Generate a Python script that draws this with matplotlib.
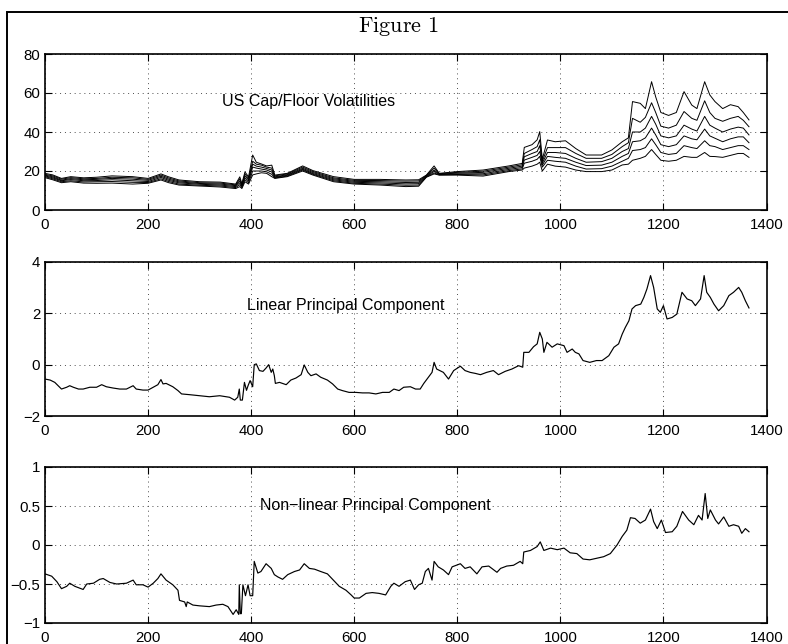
import matplotlib

matplotlib.use("Agg")
import matplotlib.pyplot as plt
from matplotlib.patches import Rectangle

vol_x = [0, 15, 32, 50, 75, 100, 130, 170, 200, 225, 240, 260, 300, 340, 370, 378, 382, 388, 395,
         403, 410, 420, 430, 440, 446, 470, 500, 520, 560, 600, 650, 700, 725, 740, 755, 765, 800,
         850, 900, 926, 930, 945, 955, 960, 965, 975, 990, 1010, 1030, 1050, 1080, 1100, 1120,
         1132, 1140, 1155, 1165, 1177, 1185, 1195, 1210, 1225, 1240, 1255, 1265, 1280, 1290,
         1300, 1315, 1330, 1345, 1355, 1366]
vol_1 = [18.8, 18.0, 16.2, 17.1, 16.5, 16.8, 17.5, 17.1, 16.2, 18.5, 17.0, 15.4, 14.5, 14.3, 13.3,
         17.0, 13.5, 19.5, 17.0, 28.2, 24.5, 23.6, 22.6, 23.0, 17.9, 18.8, 22.6, 20.2, 17.1, 15.7,
         15.7, 15.4, 15.5, 17.9, 22.6, 18.8, 19.7, 20.5, 22.6, 23.9, 32.1, 33.5, 36.0, 40.2, 26.0,
         35.9, 35.0, 35.5, 31.5, 28.2, 28.2, 30.8, 35.0, 37.0, 55.6, 54.7, 52.0, 65.8, 58.0, 50.0,
         48.5, 50.0, 60.7, 53.8, 52.0, 65.8, 59.0, 55.6, 52.0, 54.0, 53.0, 50.0, 46.2]
vol_2 = [18.3, 17.5, 15.8, 16.6, 16.0, 16.2, 16.8, 16.5, 15.7, 17.9, 16.4, 14.9, 14.0, 13.8, 12.9,
         16.0, 13.0, 18.5, 16.2, 25.0, 23.5, 23.0, 22.0, 21.5, 17.5, 18.5, 22.0, 19.7, 16.5, 15.2,
         15.1, 14.8, 14.9, 17.7, 21.5, 18.6, 19.3, 19.9, 22.0, 23.2, 29.0, 31.0, 32.5, 36.0, 25.0,
         32.0, 32.0, 32.0, 29.0, 26.5, 26.5, 28.5, 32.5, 34.5, 47.0, 45.0, 47.5, 55.0, 50.0, 43.0,
         42.0, 43.5, 50.5, 47.0, 46.0, 56.0, 50.0, 47.0, 45.5, 47.0, 48.0, 46.0, 42.7]
vol_3 = [17.9, 17.0, 15.3, 16.1, 15.5, 15.7, 16.2, 15.8, 15.2, 17.3, 15.8, 14.4, 13.6, 13.3, 12.5,
         15.0, 12.5, 17.5, 15.5, 23.5, 22.5, 22.0, 21.3, 20.5, 17.0, 18.1, 21.4, 19.2, 16.0, 14.7,
         14.5, 14.1, 14.2, 17.5, 20.5, 18.4, 18.9, 19.3, 21.4, 22.5, 27.3, 29.0, 30.0, 33.0, 24.0,
         29.5, 29.5, 29.0, 26.5, 24.5, 24.8, 26.5, 30.0, 31.5, 40.0, 40.0, 42.0, 48.0, 44.0, 38.0,
         37.0, 38.0, 43.5, 41.5, 40.5, 48.0, 43.5, 42.0, 40.0, 41.5, 42.5, 42.0, 38.5]
vol_4 = [17.5, 16.5, 15.0, 15.6, 15.0, 15.1, 15.5, 15.0, 14.6, 16.7, 15.2, 13.9, 13.2, 12.8, 12.0,
         14.0, 12.0, 16.5, 14.8, 22.0, 21.5, 21.0, 20.5, 19.5, 16.7, 17.8, 20.9, 18.7, 15.5, 14.2,
         13.9, 13.4, 13.5, 17.2, 19.8, 18.2, 18.5, 18.6, 20.8, 21.8, 25.6, 27.0, 28.0, 30.0, 23.0,
         27.5, 27.0, 26.5, 24.5, 22.8, 23.0, 24.5, 27.5, 29.0, 35.0, 35.5, 37.0, 42.0, 38.5, 33.5,
         32.5, 33.5, 38.0, 36.5, 36.0, 41.5, 38.0, 36.8, 35.0, 36.5, 37.5, 37.5, 34.5]
vol_5 = [17.1, 16.0, 14.5, 15.0, 14.4, 14.5, 14.6, 14.2, 14.1, 16.0, 14.6, 13.3, 12.7, 12.3, 11.5,
         13.0, 11.5, 15.5, 14.0, 20.0, 20.0, 20.0, 19.6, 18.3, 16.4, 17.4, 20.5, 18.3, 15.0, 13.7,
         13.3, 12.7, 12.8, 17.0, 19.0, 18.0, 18.2, 18.0, 20.2, 21.1, 24.0, 25.0, 26.0, 27.5, 22.0,
         25.5, 25.0, 24.5, 22.5, 21.0, 21.2, 22.5, 25.0, 26.5, 30.5, 31.0, 32.0, 36.5, 33.5, 29.5,
         28.5, 29.0, 33.0, 32.0, 31.5, 35.5, 33.0, 32.5, 31.0, 32.0, 33.0, 33.0, 31.0]
vol_6 = [16.6, 15.5, 14.0, 14.5, 13.8, 13.7, 13.8, 13.3, 13.7, 15.4, 14.0, 12.8, 12.3, 11.8, 11.0,
         12.0, 11.0, 14.5, 13.3, 18.0, 18.5, 19.1, 18.8, 17.1, 16.2, 17.1, 20.0, 17.9, 14.5, 13.3,
         12.8, 12.0, 12.2, 16.8, 18.5, 17.9, 17.9, 17.4, 19.7, 20.5, 21.5, 22.5, 23.5, 24.5, 20.0,
         23.5, 22.5, 22.0, 20.5, 19.7, 19.7, 20.5, 23.1, 23.5, 25.5, 26.5, 27.5, 31.0, 28.5, 25.5,
         25.0, 25.5, 27.5, 27.0, 27.0, 29.5, 27.5, 27.4, 27.0, 28.0, 29.0, 29.0, 27.0]

lin_x = [0, 10, 19, 32, 42, 48, 55, 65, 74, 87, 100, 110, 119, 132, 145, 158, 171, 177, 190, 200,
         210, 219, 225, 229, 235, 248, 258, 265, 281, 300, 319, 339, 358, 368, 374, 377, 379, 383,
         387, 391, 394, 398, 403, 406, 410, 416, 423, 429, 434, 439, 442, 445, 447, 455, 468, 477,
         487, 497, 503, 510, 516, 526, 535, 548, 558, 568, 577, 590, 603, 616, 629, 642, 655, 668,
         677, 687, 696, 709, 719, 728, 735, 744, 751, 755, 760, 773, 783, 793, 806, 815, 825, 835,
         845, 857, 870, 880, 893, 906, 919, 927, 929, 939, 948, 955, 960, 965, 968, 974, 984, 994,
         1007, 1013, 1023, 1029, 1036, 1044, 1057, 1070, 1081, 1094, 1104, 1113, 1120, 1126, 1133,
         1139, 1146, 1156, 1162, 1168, 1175, 1181, 1188, 1194, 1200, 1207, 1217, 1226, 1236, 1246,
         1255, 1262, 1272, 1279, 1284, 1291, 1298, 1307, 1317, 1327, 1336, 1346, 1352, 1359, 1366]
lin_y = [-0.56, -0.6, -0.69, -0.95, -0.88, -0.82, -0.88, -0.95, -0.95, -0.88, -0.88, -0.78, -0.86,
         -0.91, -0.95, -0.95, -0.82, -0.95, -0.99, -0.99, -0.88, -0.78, -0.58, -0.75, -0.73, -0.86,
         -1.01, -1.14, -1.17, -1.21, -1.25, -1.21, -1.27, -1.38, -1.27, -0.95, -1.38, -1.38, -0.69,
         -1.0, -0.82, -0.62, -0.86, 0.0, 0.03, -0.23, -0.26, -0.13, 0.0, -0.3, -0.17, -0.43, -0.73,
         -0.69, -0.78, -0.6, -0.52, -0.39, -0.01, -0.3, -0.43, -0.36, -0.49, -0.6, -0.75, -0.95,
         -1.01, -1.08, -1.08, -1.1, -1.1, -1.14, -1.08, -1.08, -0.95, -1.01, -0.88, -0.86, -0.95,
         -0.95, -0.73, -0.49, -0.3, 0.09, -0.17, -0.3, -0.56, -0.23, -0.06, -0.23, -0.3, -0.34,
         -0.39, -0.3, -0.23, -0.39, -0.26, -0.17, -0.04, -0.1, 0.48, 0.48, 0.7, 0.81, 1.26, 1.0,
         0.48, 0.87, 0.68, 0.81, 0.74, 0.48, 0.61, 0.48, 0.42, 0.16, 0.09, 0.16, 0.16, 0.35, 0.68,
         0.81, 1.19, 1.45, 1.71, 2.17, 2.3, 2.36, 2.62, 2.95, 3.47, 3.01, 2.17, 2.04, 2.3, 1.78,
         1.84, 1.97, 2.82, 2.56, 2.49, 2.3, 2.56, 3.47, 2.82, 2.62, 2.36, 2.1, 2.3, 2.69, 2.82,
         3.01, 2.82, 2.49, 2.21]

nl_x = [0, 13, 23, 32, 42, 48, 58, 74, 81, 94, 106, 113, 126, 139, 158, 171, 177, 190, 200, 210,
        219, 225, 235, 248, 258, 261, 271, 274, 276, 287, 300, 319, 332, 345, 355, 365, 371, 376,
        377, 379, 381, 384, 389, 394, 398, 403, 406, 413, 419, 429, 439, 445, 452, 461, 471, 484,
        494, 503, 513, 523, 535, 548, 558, 571, 584, 594, 600, 610, 623, 635, 648, 661, 671, 677,
        687, 699, 709, 717, 725, 732, 738, 744, 751, 755, 763, 773, 783, 790, 806, 815, 825, 838,
        848, 861, 877, 884, 896, 909, 922, 927, 929, 942, 955, 961, 968, 981, 994, 1007, 1019,
        1032, 1044, 1057, 1071, 1084, 1097, 1110, 1120, 1129, 1136, 1145, 1155, 1165, 1175, 1181,
        1188, 1196, 1204, 1217, 1226, 1237, 1249, 1259, 1268, 1275, 1281, 1286, 1291, 1301, 1307,
        1317, 1327, 1336, 1346, 1352, 1359, 1366]
nl_y = [-0.37, -0.4, -0.47, -0.56, -0.53, -0.49, -0.53, -0.57, -0.5, -0.49, -0.44, -0.43, -0.48,
        -0.5, -0.49, -0.45, -0.51, -0.51, -0.54, -0.49, -0.43, -0.37, -0.45, -0.51, -0.58, -0.71,
        -0.73, -0.79, -0.73, -0.77, -0.78, -0.79, -0.77, -0.76, -0.79, -0.89, -0.83, -0.89, -0.51,
        -0.88, -0.88, -0.51, -0.65, -0.51, -0.65, -0.65, -0.21, -0.36, -0.34, -0.24, -0.3, -0.38,
        -0.41, -0.44, -0.38, -0.34, -0.32, -0.24, -0.3, -0.31, -0.34, -0.37, -0.44, -0.53, -0.58,
        -0.64, -0.68, -0.68, -0.62, -0.61, -0.62, -0.64, -0.53, -0.49, -0.53, -0.47, -0.45, -0.57,
        -0.51, -0.49, -0.34, -0.3, -0.45, -0.21, -0.28, -0.32, -0.38, -0.28, -0.24, -0.3, -0.28,
        -0.37, -0.28, -0.27, -0.35, -0.3, -0.27, -0.26, -0.21, -0.24, -0.09, -0.07, -0.02, 0.04,
        -0.07, -0.04, -0.06, -0.04, -0.1, -0.11, -0.18, -0.19, -0.17, -0.15, -0.11, 0.0, 0.11,
        0.19, 0.35, 0.34, 0.28, 0.32, 0.46, 0.3, 0.21, 0.32, 0.16, 0.17, 0.24, 0.43, 0.32, 0.26,
        0.38, 0.32, 0.66, 0.34, 0.45, 0.32, 0.27, 0.36, 0.24, 0.26, 0.24, 0.15, 0.21, 0.17]

vol_yticks = [0, 20, 40, 60, 80]
lin_yticks = [-2, 0, 2, 4]
nl_yticks = [-1, -0.5, 0, 0.5, 1]
nl_yticklabels = ["\u22121", "\u22120.5", "0", "0.5", "1"]
lin_yticklabels = ["\u22122", "0", "2", "4"]
x_ticks = [0, 200, 400, 600, 800, 1000, 1200, 1400]


def style_axes(ax):
    ax.set_xlim(0, 1400)
    ax.set_xticks(x_ticks)
    ax.grid(True, color="0.3", linestyle=(0, (1, 4)), linewidth=0.7)
    ax.tick_params(direction="in", length=5, width=0.8, top=True, right=True,
                   labelsize=10.8, pad=3.5, colors="black")
    ax.tick_params(axis="x", pad=5.5)
    for spine in ax.spines.values():
        spine.set_linewidth(1.2)
        spine.set_color("black")


def main():
    plt.rcParams["font.family"] = ["Liberation Sans", "DejaVu Sans"]
    plt.rcParams["mathtext.fontset"] = "cm"

    fig = plt.figure(figsize=(7.88, 6.44), dpi=100)
    fig.patch.set_facecolor("white")

    # frame around the whole figure; right and bottom edges run off the page
    fig.patches.append(Rectangle((7 / 788, -0.05), 1.1, 1 - 12 / 644 + 0.05,
                                 transform=fig.transFigure, fill=False,
                                 edgecolor="black", linewidth=1.4))
    fig.text(398 / 788, 1 - 26 / 644, r"$\mathrm{Figure\ 1}$", ha="center", va="center",
             fontsize=16)

    left, width = 45 / 788, 721.5 / 788
    ax1 = fig.add_axes([left, 1 - 210 / 644, width, 156 / 644])
    ax2 = fig.add_axes([left, 1 - 416 / 644, width, 154 / 644])
    ax3 = fig.add_axes([left, 1 - 623 / 644, width, 156 / 644])

    for series in (vol_1, vol_2, vol_3, vol_4, vol_5, vol_6):
        ax1.plot(vol_x, series, color="black", linewidth=0.7)
    ax1.set_ylim(0, 80)
    ax1.set_yticks(vol_yticks)
    ax1.text(343, 55.5, "US Cap/Floor Volatilities", fontsize=11.5, va="center")

    ax2.plot(lin_x, lin_y, color="black", linewidth=0.85)
    ax2.set_ylim(-2, 4)
    ax2.set_yticks(lin_yticks)
    ax2.set_yticklabels(lin_yticklabels)
    ax2.text(392, 2.32, "Linear Principal Component", fontsize=11.5, va="center")

    ax3.plot(nl_x, nl_y, color="black", linewidth=0.85)
    ax3.set_ylim(-1, 1)
    ax3.set_yticks(nl_yticks)
    ax3.set_yticklabels(nl_yticklabels)
    ax3.text(417, 0.51, "Non\u2212linear Principal Component", fontsize=11.5, va="center")

    for ax in (ax1, ax2, ax3):
        style_axes(ax)

    fig.savefig("out.png", dpi=100, facecolor=fig.get_facecolor())


if __name__ == "__main__":
    main()
